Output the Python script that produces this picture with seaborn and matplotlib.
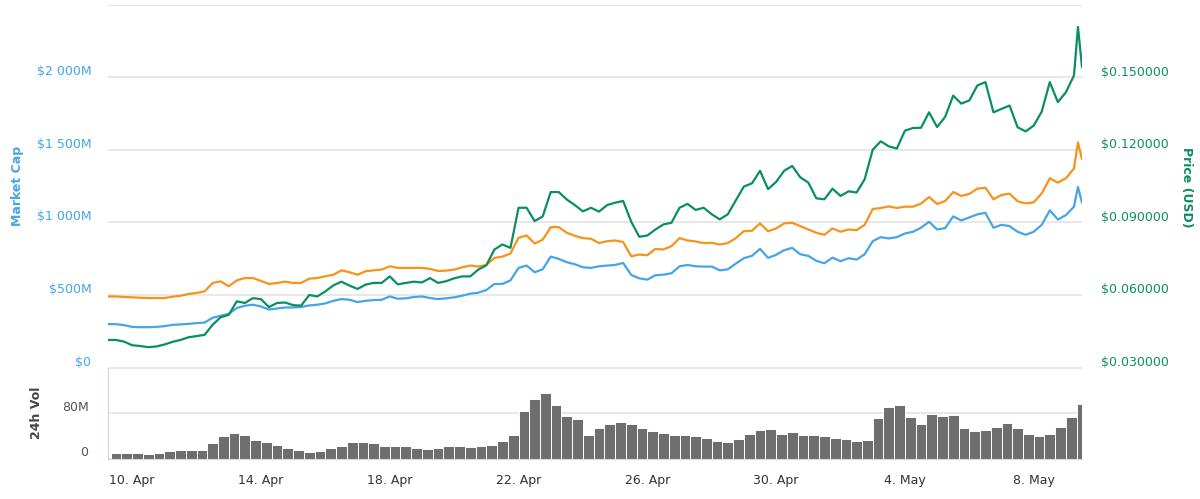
import pandas as pd
import seaborn as sns
import matplotlib.pyplot as plt
import matplotlib.dates as mdates
from matplotlib.transforms import ScaledTranslation

# sample times: every 6 hours, plus one extra point on the last spike
times = list(pd.date_range('2017-04-09 06:00', periods=121, freq='6h')) + [
    pd.Timestamp('2017-05-09 09:00'), pd.Timestamp('2017-05-09 12:00')]

# Market Cap in $M
market_cap = [
    299, 299, 292, 280, 278, 278, 280, 285, 294, 297, 301, 306, 310, 343, 357, 370, 410, 426, 433, 421,
    400, 407, 414, 414, 417, 428, 433, 442, 460, 472, 467, 451, 460, 465, 467, 490, 474, 477, 486, 490, 479,
    472, 477, 484, 495, 509, 516, 534, 576, 576, 601, 687, 703, 657, 677, 765, 749, 726, 712, 691, 687,
    698, 703, 707, 721, 638, 615, 606, 636, 640, 650, 698, 707, 698, 696, 696, 670, 677, 717, 754, 770, 818,
    756, 777, 809, 825, 781, 770, 735, 719, 758, 733, 754, 744, 781, 871, 899, 890, 899, 924, 936, 964,
    1005, 952, 961, 1042, 1014, 1035, 1056, 1067, 964, 984, 975, 936, 915, 936, 984, 1084, 1021, 1051,
    1109, 1245, 1137]

# orange series (its own axis is hidden, values read against the Market Cap scale)
price_btc = [
    490, 490, 486, 484, 481, 479, 479, 479, 488, 495, 507, 514, 525, 583, 594, 560, 601, 617, 617, 597,
    576, 583, 592, 583, 583, 613, 617, 629, 640, 670, 657, 640, 664, 670, 675, 698, 687, 687, 687, 687, 680,
    666, 668, 675, 691, 703, 696, 707, 756, 765, 786, 894, 911, 855, 881, 968, 968, 929, 908, 892, 888,
    858, 871, 876, 865, 767, 779, 774, 818, 814, 837, 892, 876, 869, 858, 860, 848, 858, 892, 941, 943, 994,
    940, 959, 994, 998, 975, 952, 929, 915, 959, 936, 952, 947, 984, 1093, 1100, 1111, 1100, 1109, 1109,
    1130, 1176, 1127, 1148, 1210, 1183, 1197, 1233, 1240, 1160, 1190, 1199, 1146, 1132, 1139, 1201, 1305,
    1275, 1305, 1372, 1552, 1437]

# Price in USD
price_usd = [
    0.0414, 0.0414, 0.0407, 0.0392, 0.0389, 0.0384, 0.0387, 0.0395, 0.0406, 0.0414, 0.0425, 0.0430, 0.0435,
    0.0477, 0.0508, 0.0518, 0.0574, 0.0567, 0.0587, 0.0583, 0.0550, 0.0567, 0.0569, 0.0558, 0.0556, 0.0600,
    0.0594, 0.0615, 0.0640, 0.0655, 0.0639, 0.0625, 0.0643, 0.0650, 0.0650, 0.0677, 0.0644, 0.0650, 0.0655,
    0.0652, 0.0670,
    0.0650, 0.0657, 0.0669, 0.0677, 0.0677, 0.0705, 0.0723, 0.0788, 0.0809, 0.0795, 0.0961, 0.0961, 0.0906,
    0.0925, 0.1026, 0.1026, 0.0995, 0.0972, 0.0946, 0.0961, 0.0945, 0.0972, 0.0982, 0.0989, 0.0903, 0.0841,
    0.0846, 0.0871, 0.0892, 0.0899, 0.0961, 0.0977, 0.0952, 0.0961, 0.0934, 0.0913, 0.0934, 0.0992, 0.1049,
    0.1062, 0.1114,
    0.1038, 0.1068, 0.1114, 0.1134, 0.1087, 0.1065, 0.1000, 0.0996, 0.1040, 0.1010, 0.1029, 0.1024, 0.1079,
    0.1201, 0.1236, 0.1215, 0.1206, 0.1280, 0.1291, 0.1292, 0.1356, 0.1295, 0.1337, 0.1425, 0.1392, 0.1405,
    0.1467, 0.1481, 0.1356, 0.1370, 0.1384, 0.1294, 0.1277, 0.1301, 0.1359, 0.1481, 0.1398, 0.1439, 0.1508,
    0.1709, 0.1543]

# 24h volume in $M, one bar per 8 hours
vol_times = pd.date_range('2017-04-09 08:00', periods=91, freq='8h')
volume = [
    10.2, 10.2, 10.2, 7.8, 10.2, 12.6, 15.0, 15.0, 15.0, 27.1, 39.1, 45.1, 40.9, 33.1, 28.9, 22.9, 19.2,
    15.0, 12.0, 13.2, 18.0, 22.3, 28.9, 28.9, 27.1, 21.1, 21.1, 21.1, 19.2, 16.2, 19.2, 21.1, 21.1, 19.8,
    22.3, 22.9, 31.3, 40.9, 84.2, 105.3, 115.0, 93.2, 75.2, 69.2, 42.1,
    54.1, 60.2, 65.0, 60.2, 54.1, 48.1, 45.1, 42.1, 42.1, 40.3, 36.1, 31.3, 28.9, 34.9, 43.3, 49.3, 51.1,
    43.3, 46.3, 42.1, 42.1, 39.1, 36.1, 34.9, 31.3, 33.1, 71.0, 90.2, 93.2, 72.2, 60.2, 78.2, 75.2, 77.0,
    54.1, 48.1, 49.3, 55.3, 62.0, 54.1, 43.3, 39.1, 43.3, 55.3, 73.4, 96.2]

cap_ticks = [0, 500, 1000, 1500, 2000, 2500]
cap_labels = ['$0', '$500M', '$1 000M', '$1 500M', '$2 000M', '']
usd_ticks = [0.03, 0.06, 0.09, 0.12, 0.15]
usd_labels = ['$0.030000', '$0.060000', '$0.090000', '$0.120000', '$0.150000']
date_ticks = pd.to_datetime(['2017-04-10', '2017-04-14', '2017-04-18', '2017-04-22',
                             '2017-04-26', '2017-04-30', '2017-05-04', '2017-05-08'])

BLUE = '#45a5e6'
ORANGE = '#f7931a'
GREEN = '#0a8f5f'
GRID = '#e6e6e6'
AXIS = '#ccd6eb'

sns.set_style('white')
plt.rcParams['font.family'] = ['DejaVu Sans']

fig = plt.figure(figsize=(12, 4.99), dpi=100)
ax = fig.add_axes([108 / 1200, 1 - 367.5 / 499, 974 / 1200, 362.5 / 499])
axv = fig.add_axes([108 / 1200, 1 - 458.5 / 499, 974 / 1200, 91 / 499], sharex=ax)

# market cap
sns.lineplot(x=times, y=market_cap, ax=ax, color=BLUE, linewidth=1.6)
ax.set_ylim(0, 2500)
ax.set_yticks(cap_ticks)
ax.set_yticklabels(cap_labels, color=BLUE, fontsize=9)
ax.yaxis.grid(True, color=GRID, linewidth=1.3)
ax.set_axisbelow(True)
ax.tick_params(axis='y', length=0, pad=12)
ax.tick_params(axis='x', length=0, labelbottom=False)
ax.set_xlabel('')
ax.set_ylabel('')

# orange series on hidden axis
axo = ax.twinx()
sns.lineplot(x=times, y=price_btc, ax=axo, color=ORANGE, linewidth=1.6)
axo.set_ylim(0, 2500)
axo.axis('off')

# price usd
axr = ax.twinx()
sns.lineplot(x=times, y=price_usd, ax=axr, color=GREEN, linewidth=1.6)
axr.set_ylim(0.03, 0.18)
axr.set_yticks(usd_ticks)
axr.set_yticklabels(usd_labels, color=GREEN, fontsize=9)
axr.tick_params(axis='y', length=0, pad=14)
axr.set_ylabel('')

# volume
axv.bar(vol_times, volume, width=8 / 24, align='edge', color='#6e6e6e',
        edgecolor='white', linewidth=0.7)
axv.set_ylim(0, 160)
axv.set_yticks([0, 80, 160])
axv.set_yticklabels(['0', '80M', ''], color='#555555', fontsize=9)
axv.yaxis.grid(True, color=GRID, linewidth=1.3)
axv.set_axisbelow(True)
axv.tick_params(axis='y', length=0, pad=14)

axv.set_xlim(times[0], times[-1])
axv.set_xticks(date_ticks)
axv.xaxis.set_major_formatter(mdates.DateFormatter('%-d. %b'))
axv.tick_params(axis='x', length=8, width=1, color=AXIS, labelsize=9,
                labelcolor='#333333', pad=3)

for a in (ax, axo, axr, axv):
    for s in a.spines.values():
        s.set_visible(False)
axv.spines['left'].set_visible(True)
axv.spines['left'].set_color(AXIS)
axv.spines['bottom'].set_visible(True)
axv.spines['bottom'].set_color(AXIS)

# lift y labels a little above their grid lines
lift = ScaledTranslation(0, 0.07, fig.dpi_scale_trans)
for a in (ax, axr, axv):
    for lab in a.get_yticklabels():
        lab.set_transform(lab.get_transform() + lift)

fig.text(18 / 1200, 1 - 186 / 499, 'Market Cap', rotation=90, color=BLUE,
         fontsize=9, fontweight='bold', ha='center', va='center')
fig.text(1187 / 1200, 1 - 187 / 499, 'Price (USD)', rotation=270, color=GREEN,
         fontsize=9, fontweight='bold', ha='center', va='center')
fig.text(36 / 1200, 1 - 413 / 499, '24h Vol', rotation=90, color='#444444',
         fontsize=9, fontweight='bold', ha='center', va='center')

fig.savefig('out.png', dpi=100)
